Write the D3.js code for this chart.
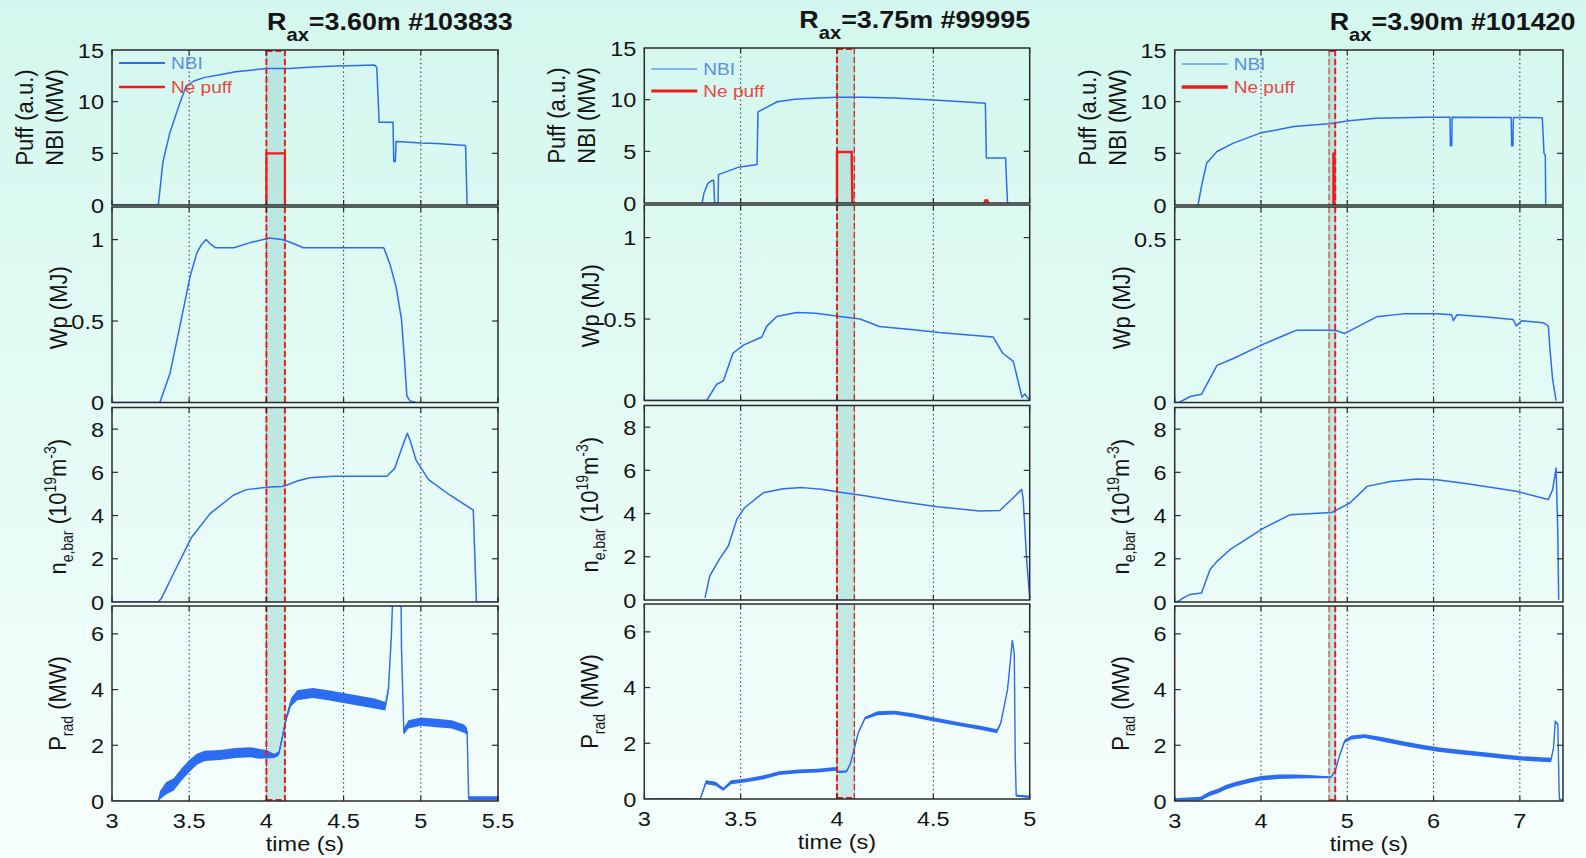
<!DOCTYPE html>
<html>
<head>
<meta charset="utf-8">
<script src="https://cdn.jsdelivr.net/npm/d3@7"></script>
<style>
html, body { margin: 0; padding: 0; }
body { width: 1586px; height: 858px; overflow: hidden; background: linear-gradient(#d3f7ee, #f6fffd); }
svg { display: block; font-family: "Liberation Sans", Arial, sans-serif; }
</style>
</head>
<body>
<svg id="fig" width="1586" height="858"></svg>
<script>
// ---------- shot metadata ----------
const raxValues = ["3.60", "3.75", "3.90"];
const shotNumbers = ["#103833", "#99995", "#101420"];
const puffWindows = [[4.0, 4.12], [4.0, 4.09], [4.79, 4.86]];

// ---------- axes ----------
const xDomains = [[3, 5.5], [3, 5], [3, 7.5]];
const xTicks1 = [3, 3.5, 4, 4.5, 5, 5.5];
const xTicks2 = [3, 3.5, 4, 4.5, 5];
const xTicks3 = [3, 4, 5, 6, 7];
const yTicksNbi = [0, 5, 10, 15];
const yTicksWp = [0, 0.5, 1];
const yTicksWp3 = [0, 0.5];
const yTicksNe = [0, 2, 4, 6, 8];
const yTicksPrad = [0, 2, 4, 6];

// ---------- shot #103833 (t [s], value) ----------
const nbi1 = [[3.0,0],[3.30,0],[3.33,4.2],[3.375,7.0],[3.44,9.9],[3.48,11.5],[3.53,12.0],[3.6,12.35],[3.7,12.6],[3.8,12.9],[3.9,13.05],[4.0,13.2],[4.15,13.2],[4.3,13.35],[4.45,13.45],[4.6,13.5],[4.70,13.55],[4.715,13.3],[4.73,8.0],[4.82,8.0],[4.825,4.2],[4.835,4.2],[4.84,6.15],[4.9,6.1],[5.0,6.0],[5.1,5.95],[5.2,5.85],[5.29,5.75],[5.30,0],[5.5,0]];
const puff1 = [[4.0,0],[4.0,5],[4.12,5],[4.12,0]];
const wp1 = [[3.0,0],[3.31,0],[3.376,0.18],[3.44,0.47],[3.505,0.77],[3.55,0.92],[3.58,0.97],[3.61,1.0],[3.64,0.97],[3.67,0.95],[3.79,0.95],[3.89,0.98],[4.02,1.01],[4.1,1.0],[4.15,0.985],[4.24,0.95],[4.43,0.95],[4.6,0.95],[4.76,0.95],[4.80,0.85],[4.84,0.71],[4.875,0.51],[4.89,0.32],[4.91,0.04],[4.93,0.01],[4.97,0]];
const ne1 = [[3.0,0],[3.30,0],[3.32,0.17],[3.42,1.63],[3.516,3.0],[3.635,4.09],[3.786,4.94],[3.87,5.2],[4.02,5.32],[4.1,5.35],[4.13,5.4],[4.2,5.6],[4.28,5.75],[4.43,5.82],[4.6,5.82],[4.78,5.82],[4.83,6.17],[4.887,7.32],[4.913,7.81],[4.93,7.5],[4.97,6.55],[5.05,5.66],[5.19,4.94],[5.34,4.25],[5.36,0],[5.5,0]];
// radiated power: (t, level, half-spread of the fluctuation)
const prad1 = [[3.0,0,0],[3.30,0,0],[3.31,0.2,0.15],[3.35,0.45,0.22],[3.40,0.6,0.22],[3.45,0.95,0.22],[3.5,1.25,0.22],[3.55,1.5,0.2],[3.6,1.62,0.18],[3.7,1.65,0.18],[3.8,1.72,0.18],[3.9,1.75,0.18],[3.95,1.7,0.18],[4.0,1.68,0.15],[4.05,1.62,0.08],[4.08,1.7,0.08],[4.1,2.2,0.12],[4.13,3.0,0.12],[4.16,3.55,0.15],[4.2,3.8,0.18],[4.3,3.88,0.18],[4.4,3.8,0.18],[4.5,3.7,0.18],[4.6,3.6,0.18],[4.7,3.5,0.18],[4.77,3.4,0.15],[4.79,4.0,0.12],[4.81,6.0,0.08],[4.825,8.5,0],[4.87,8.5,0],[4.875,5.5,0],[4.89,2.5,0.12],[4.92,2.75,0.15],[5.0,2.85,0.15],[5.1,2.8,0.15],[5.2,2.75,0.15],[5.28,2.6,0.15],[5.30,2.5,0.12],[5.31,0.1,0.07],[5.5,0.1,0.07]];

// ---------- shot #99995 ----------
const nbi2 = [[3.30,0],[3.31,1.0],[3.33,1.9],[3.35,2.17],[3.36,2.2],[3.365,0],[3.383,0],[3.385,2.75],[3.49,3.47],[3.585,3.72],[3.59,8.82],[3.69,9.8],[3.78,10.05],[3.9,10.15],[4.0,10.23],[4.14,10.23],[4.3,10.15],[4.5,9.97],[4.65,9.8],[4.77,9.65],[4.775,4.35],[4.875,4.35],[4.88,2.0],[4.885,0]];
const puff2 = [[4.0,0],[4.0,4.93],[4.076,4.93],[4.08,0],null,[4.765,0],[4.77,0.25],[4.78,0.25],[4.785,0]];
const wp2 = [[3.0,0],[3.324,0],[3.376,0.10],[3.41,0.12],[3.46,0.29],[3.514,0.34],[3.61,0.39],[3.635,0.455],[3.687,0.516],[3.79,0.54],[3.89,0.535],[4.015,0.516],[4.12,0.50],[4.22,0.454],[4.396,0.434],[4.53,0.417],[4.81,0.39],[4.86,0.29],[4.915,0.24],[4.96,0.02],[4.975,0.04],[5.0,0]];
const ne2 = [[3.315,0.1],[3.34,1.12],[3.39,1.89],[3.436,2.5],[3.48,3.73],[3.52,4.27],[3.617,4.96],[3.72,5.15],[3.82,5.2],[3.92,5.12],[4.015,4.99],[4.136,4.84],[4.31,4.58],[4.52,4.32],[4.74,4.12],[4.845,4.14],[4.915,4.73],[4.958,5.12],[4.966,4.7],[4.984,1.9],[5.0,0.1]];
const prad2 = [[3.0,0,0.02],[3.29,0,0.02],[3.30,0.2,0.05],[3.32,0.6,0.07],[3.37,0.55,0.07],[3.41,0.35,0.05],[3.45,0.6,0.07],[3.53,0.67,0.07],[3.62,0.78,0.07],[3.7,0.93,0.07],[3.8,0.99,0.07],[3.9,1.02,0.07],[3.99,1.08,0.07],[4.01,0.97,0.04],[4.05,0.99,0.04],[4.07,1.28,0.04],[4.085,1.68,0.04],[4.11,2.37,0.04],[4.145,2.9,0.05],[4.21,3.08,0.07],[4.3,3.1,0.07],[4.4,3.0,0.07],[4.47,2.9,0.07],[4.56,2.78,0.07],[4.64,2.68,0.07],[4.75,2.55,0.07],[4.83,2.43,0.07],[4.85,2.73,0.04],[4.885,3.93,0.04],[4.91,5.7,0.04],[4.92,5.2,0.04],[4.925,1.5,0.04],[4.93,0.12,0.04],[5.0,0.08,0.04]];

// ---------- shot #101420 ----------
const nbi3 = [[3.27,0],[3.31,1.78],[3.37,4.05],[3.49,5.18],[3.68,5.99],[3.99,6.96],[4.38,7.6],[4.79,7.86],[4.87,7.97],[5.02,8.16],[5.33,8.39],[5.91,8.48],[6.19,8.48],[6.195,5.73],[6.21,5.73],[6.215,8.48],[6.90,8.46],[6.905,5.73],[6.92,5.73],[6.925,8.46],[7.26,8.45],[7.28,5.0],[7.295,4.8],[7.30,0]];
const puff3 = [[4.84,0],[4.84,4.95],[4.85,4.95],[4.85,0]];
const wp3 = [[3.0,0],[3.05,0],[3.18,0.0185],[3.31,0.025],[3.49,0.114],[3.68,0.135],[4.03,0.179],[4.34,0.214],[4.42,0.222],[4.82,0.222],[4.88,0.22],[4.97,0.212],[5.1,0.23],[5.34,0.263],[5.65,0.272],[6.04,0.272],[6.21,0.269],[6.23,0.251],[6.27,0.269],[6.58,0.263],[6.92,0.255],[6.96,0.235],[7.02,0.251],[7.27,0.245],[7.33,0.235],[7.35,0.16],[7.38,0.07],[7.42,0.006]];
const ne3 = [[3.0,0],[3.05,0.05],[3.1,0.19],[3.18,0.35],[3.31,0.42],[3.41,1.5],[3.49,1.88],[3.64,2.42],[4.03,3.42],[4.34,4.04],[4.82,4.14],[5.03,4.58],[5.23,5.35],[5.5,5.58],[5.81,5.69],[6.04,5.66],[6.39,5.47],[6.96,5.12],[7.33,4.74],[7.38,5.2],[7.42,6.2],[7.44,3.2],[7.45,0.1]];
const prad3 = [[3.0,0.05,0.05],[3.3,0.08,0.07],[3.4,0.25,0.08],[3.5,0.36,0.08],[3.6,0.5,0.08],[3.7,0.6,0.08],[3.85,0.72,0.08],[4.0,0.82,0.08],[4.2,0.87,0.08],[4.4,0.88,0.07],[4.6,0.87,0.05],[4.81,0.85,0.03],[4.86,1.08,0.03],[4.91,1.63,0.04],[4.97,2.15,0.06],[5.05,2.28,0.07],[5.2,2.33,0.07],[5.4,2.22,0.08],[5.63,2.07,0.08],[5.85,1.95,0.08],[6.05,1.85,0.08],[6.3,1.76,0.08],[6.59,1.67,0.08],[6.8,1.6,0.08],[7.02,1.53,0.08],[7.2,1.5,0.08],[7.36,1.47,0.08],[7.39,1.9,0.04],[7.41,2.85,0.04],[7.44,2.75,0.04],[7.455,0.3,0.03],[7.46,0.05,0.03],[7.5,0.05,0.03]];

// ---------- layout ----------
const BLUE = "#2c6cf0", RED = "#f01c1c";
const SX = 1.12;                          // horizontal text stretch
const rows = [[50, 205], [207, 402.5], [407.5, 602], [606, 801]];
const colFrames = [
  { left: 112, right: 498, dy: 0, legY: [13, 37], nbiW: 2, puffW: 2.5 },
  { left: 644.3, right: 1029.7, dy: -2, legY: [21, 43], nbiW: 1.2, puffW: 3.2 },
  { left: 1174.7, right: 1563, dy: 0, legY: [14, 37], nbiW: 1.2, puffW: 3.5 }
];

const shots = [
  { xTicks: xTicks1, nbi: nbi1, puff: puff1, wp: wp1, ne: ne1, prad: prad1, wpDomain: [0, 1.2], wpTicks: yTicksWp },
  { xTicks: xTicks2, nbi: nbi2, puff: puff2, wp: wp2, ne: ne2, prad: prad2, wpDomain: [0, 1.2], wpTicks: yTicksWp },
  { xTicks: xTicks3, nbi: nbi3, puff: puff3, wp: wp3, ne: ne3, prad: prad3, wpDomain: [0, 0.6], wpTicks: yTicksWp3 }
];

const svg = d3.select("#fig");
const defs = svg.append("defs");

function txt(g, x, y, anchor, size, opts = {}) {
  const rot = opts.rotate ? " rotate(-90)" : "";
  return g.append("text")
    .attr("transform", `translate(${x},${y}) scale(${SX},1)${rot}`)
    .attr("text-anchor", anchor)
    .attr("font-size", size)
    .attr("font-weight", opts.weight || "normal")
    .attr("fill", opts.fill || "#141414");
}

shots.forEach((s, ci) => {
  const f = colFrames[ci];
  const x = d3.scaleLinear().domain(xDomains[ci]).range([f.left, f.right]);
  const g = svg.append("g");
  const panels = [
    { domain: [0, 15], ticks: yTicksNbi },
    { domain: s.wpDomain, ticks: s.wpTicks },
    { domain: [0, 9], ticks: yTicksNe },
    { domain: [0, 7], ticks: yTicksPrad }
  ];

  panels.forEach((p, ri) => {
    const top = rows[ri][0] + f.dy, bot = rows[ri][1] + f.dy;
    const y = d3.scaleLinear().domain(p.domain).range([bot, top]);
    const cid = `clip-${ci}-${ri}`;
    defs.append("clipPath").attr("id", cid).append("rect")
      .attr("x", f.left).attr("y", top).attr("width", f.right - f.left).attr("height", bot - top);
    const pg = g.append("g");
    const cg = pg.append("g").attr("clip-path", `url(#${cid})`);

    // neon puff window
    const w = puffWindows[ci];
    cg.append("rect")
      .attr("x", x(w[0])).attr("y", top).attr("width", x(w[1]) - x(w[0])).attr("height", bot - top)
      .attr("fill", "#a6dbd5").attr("fill-opacity", 0.6)
      .attr("stroke", "#93bdb8").attr("stroke-width", 1);

    // dotted time grid
    s.xTicks.filter(t => t > xDomains[ci][0] && t < xDomains[ci][1]).forEach(t => {
      cg.append("line").attr("x1", x(t)).attr("x2", x(t)).attr("y1", top).attr("y2", bot)
        .attr("stroke", "#1a1a1a").attr("stroke-width", 1).attr("stroke-dasharray", "1.3,3");
    });

    const line = d3.line().defined(d => d !== null).x(d => x(d[0])).y(d => y(d[1]));
    if (ri === 0) {
      cg.append("path").datum(s.nbi).attr("d", line).attr("fill", "none")
        .attr("stroke", BLUE).attr("stroke-width", 1.5).attr("stroke-linejoin", "round");
      cg.append("path").datum(s.puff).attr("d", line).attr("fill", "none")
        .attr("stroke", RED).attr("stroke-width", ci === 0 ? 2.2 : 2.5);
    } else if (ri === 1 || ri === 2) {
      cg.append("path").datum(ri === 1 ? s.wp : s.ne).attr("d", line).attr("fill", "none")
        .attr("stroke", BLUE).attr("stroke-width", 1.5).attr("stroke-linejoin", "round");
    } else {
      const area = d3.area().x(d => x(d[0])).y0(d => y(d[1] - d[2])).y1(d => y(d[1] + d[2]));
      cg.append("path").datum(s.prad).attr("d", area).attr("fill", BLUE);
      cg.append("path").datum(s.prad).attr("d", line).attr("fill", "none")
        .attr("stroke", BLUE).attr("stroke-width", 1.4);
    }

    // dashed edges of the puff window
    [w[0], w[1]].forEach((t, k) => {
      cg.append("line").attr("x1", x(t)).attr("x2", x(t)).attr("y1", top).attr("y2", bot)
        .attr("stroke", (ci === 2 && k === 0) ? "#d77a7a" : RED)
        .attr("stroke-width", (ci === 1 && k === 1) ? 1.3 : 2)
        .attr("stroke-dasharray", "6,3");
    });
    if (ri === 0 || ri === 3) {
      const ey = ri === 0 ? top + 1 : bot - 1;
      cg.append("line").attr("x1", x(w[0])).attr("x2", x(w[1])).attr("y1", ey).attr("y2", ey)
        .attr("stroke", RED).attr("stroke-width", 2).attr("stroke-dasharray", "6,3");
    }

    // frame
    pg.append("rect").attr("x", f.left).attr("y", top).attr("width", f.right - f.left).attr("height", bot - top)
      .attr("fill", "none").attr("stroke", "#2b2b2b").attr("stroke-width", 1.5);

    // y ticks on both sides, labels on the left
    p.ticks.forEach(v => {
      const yy = y(v);
      if (v > p.domain[0] && v < p.domain[1]) {
        pg.append("line").attr("x1", f.left).attr("x2", f.left + 6).attr("y1", yy).attr("y2", yy)
          .attr("stroke", "#2b2b2b").attr("stroke-width", 1.2);
        pg.append("line").attr("x1", f.right - 6).attr("x2", f.right).attr("y1", yy).attr("y2", yy)
          .attr("stroke", "#2b2b2b").attr("stroke-width", 1.2);
      }
      txt(pg, f.left - 8, yy + 7.5, "end", 21).text(String(v));
    });

    // x ticks
    s.xTicks.forEach(t => {
      pg.append("line").attr("x1", x(t)).attr("x2", x(t)).attr("y1", bot - 5).attr("y2", bot)
        .attr("stroke", "#2b2b2b").attr("stroke-width", 1.2);
      pg.append("line").attr("x1", x(t)).attr("x2", x(t)).attr("y1", top).attr("y2", top + 5)
        .attr("stroke", "#2b2b2b").attr("stroke-width", 1.2);
      if (ri === 3) txt(pg, x(t), 828 + f.dy, "middle", 21).text(String(t));
    });

    // y-axis titles
    const cy = (top + bot) / 2;
    if (ri === 0) {
      txt(pg, f.left - 79, cy - 10, "middle", 22, { rotate: true }).text("Puff (a.u.)");
      txt(pg, f.left - 49, cy - 10, "middle", 22, { rotate: true }).text("NBI (MW)");
    } else if (ri === 1) {
      txt(pg, f.left - 45, cy + 3, "middle", 22, { rotate: true }).text("Wp (MJ)");
    } else if (ri === 2) {
      const t = txt(pg, f.left - 46, cy + 2, "middle", 22, { rotate: true });
      t.append("tspan").text("n");
      t.append("tspan").attr("font-size", 14).attr("dy", 6).text("e,bar");
      t.append("tspan").attr("dy", -6).text(" (10");
      t.append("tspan").attr("font-size", 14).attr("dy", -9).text("19");
      t.append("tspan").attr("dy", 9).text("m");
      t.append("tspan").attr("font-size", 14).attr("dy", -9).text("-3");
      t.append("tspan").attr("dy", 9).text(")");
    } else {
      const t = txt(pg, f.left - 46, cy, "middle", 22, { rotate: true });
      t.append("tspan").text("P");
      t.append("tspan").attr("font-size", 14).attr("dy", 6).text("rad");
      t.append("tspan").attr("dy", -6).text(" (MW)");
    }

    // legend
    if (ri === 0) {
      const lg = pg.append("g");
      const items = [["NBI", BLUE, "#5a8ee6", f.nbiW], ["Ne puff", RED, "#e64848", f.puffW]];
      items.forEach((it, k) => {
        const ly = top + f.legY[k];
        lg.append("line").attr("x1", f.left + 7).attr("x2", f.left + 53).attr("y1", ly).attr("y2", ly)
          .attr("stroke", it[1]).attr("stroke-width", it[3]);
        txt(lg, f.left + 59, ly + 6, "start", 17, { fill: it[2] }).text(it[0]);
      });
    }
  });

  // time label
  txt(g, (f.left + f.right) / 2, 851 + f.dy, "middle", 21).text("time (s)");

  // shot title
  const tt = txt(g, f.left + 155, 30 + f.dy, "start", 24, { weight: "bold" });
  tt.append("tspan").text("R");
  tt.append("tspan").attr("font-size", 18).attr("dy", 11).text("ax");
  tt.append("tspan").attr("dy", -11).text(`=${raxValues[ci]}m ${shotNumbers[ci]}`);
});
</script>
</body>
</html>
